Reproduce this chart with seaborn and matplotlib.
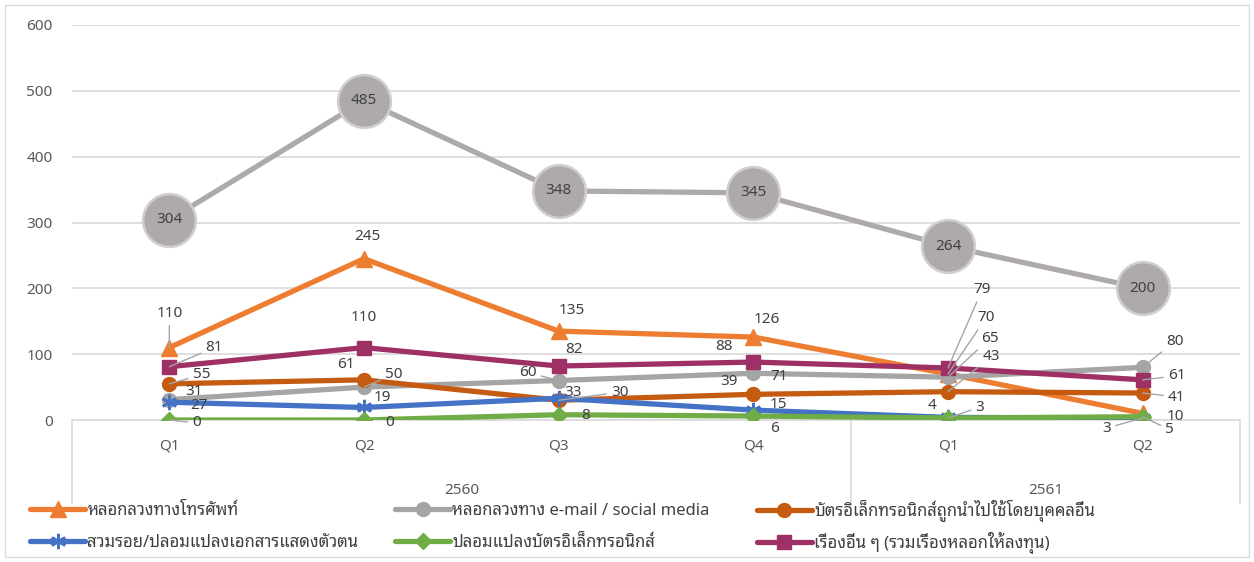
import matplotlib
matplotlib.use("Agg")
import matplotlib.pyplot as plt
from matplotlib import font_manager
from matplotlib.lines import Line2D
from matplotlib.patches import Rectangle
import matplotlib.transforms as mtransforms
import numpy as np
import pandas as pd
import seaborn as sns

# ---------------- data ----------------
quarters = ["Q1", "Q2", "Q3", "Q4", "Q1", "Q2"]
years = ["2560", "2561"]
year_spans = [(0, 3), (4, 5)]

s_phone = [110, 245, 135, 126, 70, 10]
s_email = [31, 50, 60, 71, 65, 80]
s_card_used = [55, 61, 30, 39, 43, 41]
s_identity = [27, 19, 33, 15, 4, 3]
s_card_forge = [0, 0, 8, 6, 3, 5]
s_other = [81, 110, 82, 88, 79, 61]
s_total = [304, 485, 348, 345, 264, 200]

names = [
    "หลอกลวงทางโทรศัพท์",
    "หลอกลวงทาง e-mail / social media",
    "บัตรอิเล็กทรอนิกส์ถูกนำไปใช้โดยบุคคลอื่น",
    "สวมรอย/ปลอมแปลงเอกสารแสดงตัวตน",
    "ปลอมแปลงบัตรอิเล็กทรอนิกส์",
    "เรื่องอื่น ๆ (รวมเรื่องหลอกให้ลงทุน)",
]
series = [s_phone, s_email, s_card_used, s_identity, s_card_forge, s_other]

# ---------------- style ----------------
colors = ["#ED7D31", "#A5A5A5", "#C55A11", "#4472C4", "#70AD47", "#9E3066"]
markers = ["^", "o", "o", (6, 2, 0), "D", "s"]
msizes = [11, 10, 10, 11, 8.5, 9.5]

# label offsets in pixels (dx, dy) and whether a leader line is drawn
offsets = [
    [(0, 34), (3, 22), (13, 21), (14, 18), (38, 56), (33, -3)],
    [(25, 8), (30, 13), (-31, 8), (26, -3), (42, 39), (32, 26)],
    [(32, 9), (-18, 15), (61, 8), (-24, 13), (43, 35), (34, -4)],
    [(30, -3), (18, 10), (14, 6), (25, 6), (-16, 12), (-36, -10)],
    [(27, -3), (26, -2), (27, -1), (21, -12), (32, 11), (27, -13)],
    [(45, 19), (0, 30), (15, 17), (-29, 16), (34, 78), (34, 4)],
]
leaders = [
    [1, 0, 0, 0, 1, 0],
    [0, 1, 1, 0, 1, 1],
    [1, 0, 1, 0, 1, 1],
    [0, 0, 0, 0, 0, 1],
    [1, 0, 0, 0, 1, 1],
    [1, 0, 0, 0, 1, 1],
]

fm_names = {f.name for f in font_manager.fontManager.ttflist}
thai_pref = ["Noto Sans Thai Looped", "IBM Plex Sans Thai Looped", "Sarabun",
             "Noto Sans Thai", "Athiti"]
thai_font = next((f for f in thai_pref if f in fm_names), "DejaVu Sans")
base_font = "Noto Sans" if "Noto Sans" in fm_names else "DejaVu Sans"

sns.set_style("white")
plt.rcParams["font.family"] = [base_font, thai_font, "DejaVu Sans"]

FS = 11
W, H = 1254, 562
fig = plt.figure(figsize=(W / 100, H / 100), dpi=100)
ax_left, ax_right, ax_top, ax_bot = 72, 1240, 25, 420
ax = fig.add_axes([ax_left / W, 1 - ax_bot / H, (ax_right - ax_left) / W,
                   (ax_bot - ax_top) / H])

x = np.arange(len(quarters))

# total (bubbles)
sns.lineplot(x=x, y=s_total, ax=ax, color="#AEAAAA", lw=3.8, marker="o",
             markersize=38, markerfacecolor="#AEAAAA", markeredgecolor="#D0CECE",
             markeredgewidth=1.8, legend=False, zorder=3)
for xi, v in zip(x, s_total):
    ax.text(xi, v, str(v), ha="center", va="center", fontsize=FS,
            color="#404040", zorder=10)

for i, (vals, c, m, ms) in enumerate(zip(series, colors, markers, msizes)):
    sns.lineplot(x=x, y=vals, ax=ax, color=c, lw=3.8, marker=m, markersize=ms,
                 markerfacecolor=c, markeredgecolor=c,
                 markeredgewidth=2 if i == 3 else 1, legend=False, zorder=4 + i)

for i, vals in enumerate(series):
    for j, v in enumerate(vals):
        dx, dy = offsets[i][j]
        kw = {}
        if leaders[i][j]:
            kw["arrowprops"] = dict(arrowstyle="-", color="#A6A6A6", lw=1,
                                    shrinkA=1, shrinkB=0)
        ax.annotate(str(v), xy=(j, v), xytext=(dx, dy),
                    textcoords="offset pixels", ha="center", va="center",
                    fontsize=FS, color="#404040", zorder=12, **kw)

ax.set_xlim(-0.5, len(quarters) - 0.5)
ax.set_ylim(0, 600)
ax.set_yticks(range(0, 601, 100))
ax.set_xticks(x)
ax.set_xticklabels(quarters)
ax.tick_params(axis="both", length=0, labelsize=FS, colors="#595959")
ax.tick_params(axis="y", pad=14)
ax.tick_params(axis="x", pad=13)
ax.grid(axis="y", color="#D9D9D9", lw=1.2)
ax.set_axisbelow(True)
for s in ["left", "right", "top"]:
    ax.spines[s].set_visible(False)
ax.spines["bottom"].set_color("#D9D9D9")
ax.spines["bottom"].set_linewidth(1.2)
ax.set_xlabel("")
ax.set_ylabel("")

trans = mtransforms.blended_transform_factory(ax.transData, ax.transAxes)
axh = ax_bot - ax_top
for xs in [-0.5, 3.5, 5.5]:
    ax.plot([xs, xs], [0, -(503 - ax_bot) / axh], transform=trans,
            color="#D9D9D9", lw=1.2, clip_on=False)
for yr, (a, b) in zip(years, year_spans):
    ax.text((a + b) / 2, -(491 - ax_bot) / axh, yr, transform=trans,
            ha="center", va="center", fontsize=FS, color="#595959")

# legend: 3 columns x 2 rows, each entry placed on a fixed grid
col_x = [30, 395, 757]
row_y = [511, 543]
legend_pos = {0: (0, 0), 1: (1, 0), 2: (2, 0), 3: (0, 1), 4: (1, 1), 5: (2, 1)}
LFS = 12
for k, (c, r) in legend_pos.items():
    h = Line2D([], [], color=colors[k], lw=3.8, marker=markers[k],
               markersize=msizes[k], markerfacecolor=colors[k],
               markeredgecolor=colors[k], markeredgewidth=2 if k == 3 else 1)
    fig.legend([h], [names[k]], loc="center left",
               bbox_to_anchor=(col_x[c] / W, 1 - row_y[r] / H), frameon=False,
               fontsize=LFS, handlelength=55 / (LFS * 100 / 72),
               handletextpad=0.15, borderpad=0, borderaxespad=0,
               labelcolor="#404040")

fig.patches.append(Rectangle((5 / W, 5 / H), (W - 10) / W, (H - 10) / H,
                             transform=fig.transFigure, fill=False,
                             edgecolor="#D9D9D9", lw=1))

fig.savefig("out.png", dpi=100, facecolor="white")
